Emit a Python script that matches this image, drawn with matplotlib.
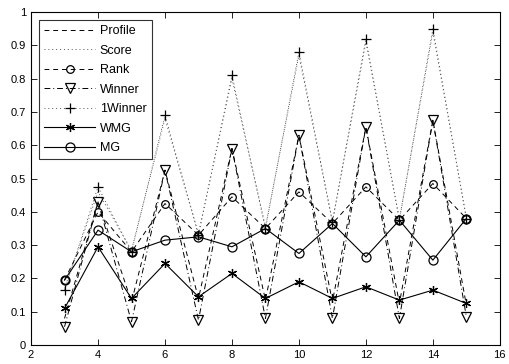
import matplotlib
matplotlib.use('Agg')
import matplotlib.pyplot as plt

plt.rcParams['font.family'] = ['Liberation Sans', 'DejaVu Sans']

n = [3, 4, 5, 6, 7, 8, 9, 10, 11, 12, 13, 14, 15]

profile = [0.08, 0.43, 0.13, 0.525, 0.14, 0.59, 0.135, 0.63, 0.13, 0.655, 0.125, 0.675, 0.12]
score = [0.17, 0.46, 0.285, 0.68, 0.335, 0.80, 0.355, 0.87, 0.37, 0.91, 0.378, 0.94, 0.382]
rank = [0.195, 0.40, 0.28, 0.425, 0.33, 0.445, 0.35, 0.46, 0.365, 0.475, 0.375, 0.485, 0.38]
winner = [0.055, 0.43, 0.07, 0.525, 0.075, 0.59, 0.08, 0.63, 0.08, 0.655, 0.08, 0.675, 0.085]
one_winner = [0.165, 0.475, 0.28, 0.69, 0.33, 0.81, 0.35, 0.88, 0.37, 0.92, 0.375, 0.95, 0.38]
wmg = [0.11, 0.295, 0.14, 0.245, 0.145, 0.215, 0.14, 0.19, 0.14, 0.175, 0.135, 0.165, 0.125]
mg = [0.195, 0.345, 0.28, 0.315, 0.325, 0.295, 0.35, 0.275, 0.365, 0.265, 0.375, 0.255, 0.38]

fig = plt.figure(figsize=(5.09, 3.64), dpi=100)
ax = fig.add_axes([0.061, 0.052, 0.921, 0.915])

lw = 0.7
ms = 5.5
dash = (0, (5, 4))
dot = (0, (1, 3))
dashdot = (0, (6, 3, 1, 3))
ax.plot(n, profile, color='k', ls=dash, lw=lw, label='Profile')
ax.plot(n, score, color='#555555', ls=dot, lw=lw, label='Score')
ax.plot(n, rank, color='k', ls=dash, lw=lw, marker='o', ms=ms, mfc='none', mec='k', mew=0.9, label='Rank')
ax.plot(n, winner, color='k', ls=dashdot, lw=lw, marker='v', ms=ms + 1, mfc='none', mec='k', mew=0.9, label='Winner')
ax.plot(n, one_winner, color='#555555', ls=dot, lw=lw, marker='+', ms=ms + 1, mec='k', mew=0.9, label='1Winner')
ax.plot(n, wmg, color='k', ls='-', lw=lw + 0.1, marker=(6, 2, 0), ms=ms + 1, mec='k', mew=0.9, label='WMG')
ax.plot(n, mg, color='k', ls='-', lw=lw + 0.1, marker='o', ms=ms + 1, mfc='none', mec='k', mew=0.9, label='MG')

ax.set_xlim(2, 16)
ax.set_ylim(0, 1)
ax.set_xticks(range(2, 17, 2))
ax.set_yticks([i / 10 for i in range(11)])
ax.set_yticklabels(['0', '0.1', '0.2', '0.3', '0.4', '0.5', '0.6', '0.7', '0.8', '0.9', '1'])
ax.tick_params(direction='in', top=True, right=True, labelsize=8, length=4, width=0.6)
for s in ax.spines.values():
    s.set_linewidth(0.8)

leg = ax.legend(loc='upper left', fontsize=9, frameon=True, fancybox=False,
                edgecolor='k', handlelength=4.1, borderaxespad=0.65,
                labelspacing=0.6, handletextpad=0.35, borderpad=0.4)
leg.get_frame().set_linewidth(0.8)

fig.savefig('out.png', dpi=100, facecolor='white')
